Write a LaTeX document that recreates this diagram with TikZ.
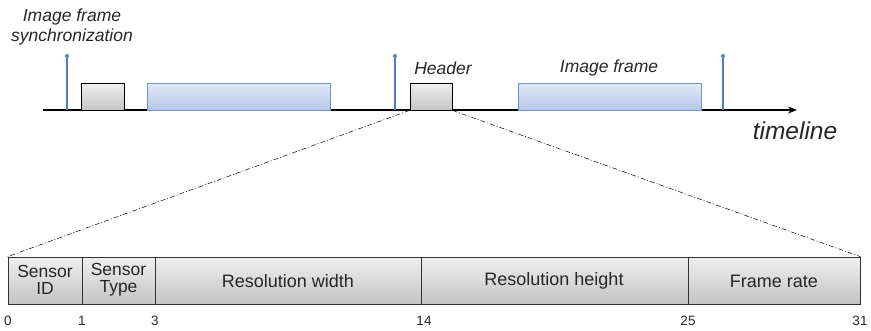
\documentclass[tikz,border=0pt]{standalone}
\usepackage{fontspec}
\setmainfont{Liberation Sans}
\usetikzlibrary{arrows.meta}
\definecolor{syncblue}{HTML}{4F81BD}
\definecolor{frameedge}{HTML}{7094C8}
\definecolor{frametop}{HTML}{E2E9F6}
\definecolor{framebot}{HTML}{B4C6E8}
\definecolor{hdrtop}{HTML}{EFEFEF}
\definecolor{hdrbot}{HTML}{C4C4C4}
\tikzset{
  graybox/.style={draw=black, line width=0.7pt, top color=hdrtop, bottom color=hdrbot},
  bluebox/.style={draw=frameedge, line width=0.7pt, top color=frametop, bottom color=framebot},
  fieldbar/.style={draw=black!80, line width=0.7pt, top color=hdrtop, bottom color=hdrbot},
  syncarrow/.style={draw=syncblue, line width=1.6pt, -{Circle[length=4pt]}},
  zoomline/.style={line width=0.5pt, dash pattern=on 5pt off 2pt on 1pt off 2pt},
  lbl/.style={font=\itshape\fontsize{17.5}{20}\selectfont, text=black!85},
  fieldtxt/.style={font=\fontsize{17.5}{18}\selectfont, text=black!85, align=center},
  bigfield/.style={font=\fontsize{18}{20}\selectfont, text=black!85},
  bitnum/.style={font=\fontsize{13.5}{15}\selectfont, text=black!85}
}
\begin{document}
\begin{tikzpicture}[x=1pt,y=-1pt]
\useasboundingbox (0,0) rectangle (871,330);

% timeline axis
\coordinate (tstart) at (43,110);
\coordinate (tend) at (797,110);
\draw[line width=1.6pt, -{Stealth[length=9pt,width=7pt]}] (tstart) -- (tend);
\node[font=\itshape\fontsize{24.5}{28}\selectfont, text=black!85] (tl) at (795,131) {timeline};

% header and frame boxes on the timeline
\node[graybox, minimum width=43pt, minimum height=27pt, inner sep=0pt] (h1) at (102.5,96.5) {};
\node[bluebox, minimum width=183pt, minimum height=27pt, inner sep=0pt] (f1) at (238.5,96.5) {};
\node[graybox, minimum width=42pt, minimum height=27pt, inner sep=0pt] (h2) at (431,96.5) {};
\node[bluebox, minimum width=183pt, minimum height=27pt, inner sep=0pt] (f2) at (609.5,96.5) {};

% synchronization markers
\coordinate (s1b) at (67,110);  \coordinate (s1t) at (67,54);
\coordinate (s2b) at (395,110); \coordinate (s2t) at (395,54);
\coordinate (s3b) at (723,110); \coordinate (s3t) at (723,54);
\draw[syncarrow] (s1b) -- (s1t);
\draw[syncarrow] (s2b) -- (s2t);
\draw[syncarrow] (s3b) -- (s3t);

% labels
\node[lbl, align=center] (synclbl) at (72,27) {Image frame\\synchronization};
\node[lbl] (hdrlbl) at (443,68) {Header};
\node[lbl] (frmlbl) at (609,68) {Image frame};

% header field layout
\node[fieldbar, minimum width=852pt, minimum height=47pt, inner sep=0pt] (bar) at (434,280.5) {};
\draw[black!80, line width=0.7pt] (82,257) -- (82,304);
\draw[black!80, line width=0.7pt] (155,257) -- (155,304);
\draw[black!80, line width=0.7pt] (421,257) -- (421,304);
\draw[black!80, line width=0.7pt] (688,257) -- (688,304);

\node[fieldtxt] (fid) at (45,280) {Sensor\\[-1pt]ID};
\node[fieldtxt] (ftype) at (118.5,280) {Sensor\\[-1pt]Type};
\node[bigfield] (fwidth) at (288,281) {Resolution width};
\node[bigfield] (fheight) at (554,281) {Resolution height};
\node[bigfield] (frate) at (774,281) {Frame rate};

% zoom projection from the header box
\draw[zoomline] (h2.south west) -- (bar.north west);
\draw[zoomline] (h2.south east) -- (bar.north east);

% bit offsets
\node[bitnum] (b0) at (8,321) {0};
\node[bitnum] (b1) at (82,321) {1};
\node[bitnum] (b3) at (155,321) {3};
\node[bitnum] (b14) at (424,321) {14};
\node[bitnum] (b25) at (688,321) {25};
\node[bitnum] (b31) at (860,321) {31};
\end{tikzpicture}
\end{document}
